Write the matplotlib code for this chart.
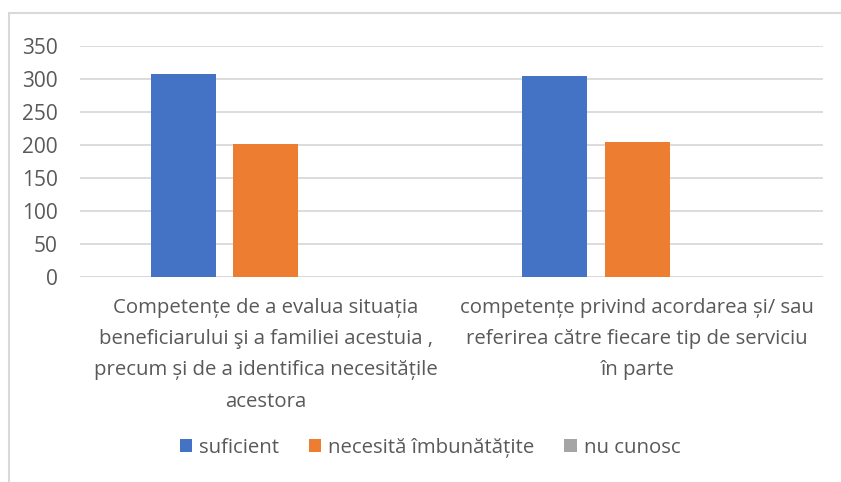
import numpy as np
import matplotlib.pyplot as plt
from matplotlib.patches import Rectangle

plt.rcParams['font.family'] = ['Open Sans', 'DejaVu Sans']

categories = [
    "Competențe de a evalua situația\nbeneficiarului şi a familiei acestuia ,\nprecum și de a identifica necesitățile\nacestora",
    "competențe privind acordarea și/ sau\nreferirea către fiecare tip de serviciu\nîn parte",
]
series = ["suficient", "necesită îmbunătățite", "nu cunosc"]
suficient = [307, 305]
necesita = [202, 204]
nu_cunosc = [0, 0]
colors = ["#4472C4", "#ED7D31", "#A5A5A5"]
yticks = [0, 50, 100, 150, 200, 250, 300, 350]
TXT = "#595959"

fig = plt.figure(figsize=(8.41, 4.82), dpi=100)
W, H = 841, 482
ax = fig.add_axes([80 / W, 1 - 277 / H, (823 - 80) / W, (277 - 46) / H])

x = np.arange(len(categories))
bw = 0.175
step = 0.222
for i, (name, vals) in enumerate(zip(series, [suficient, necesita, nu_cunosc])):
    ax.bar(x + (i - 1) * step, vals, bw, color=colors[i], label=name, zorder=3)

ax.set_xlim(-0.5, 1.5)
ax.set_ylim(0, 350)
ax.set_yticks(yticks)
ax.set_yticklabels([str(v) for v in yticks], fontsize=15, color=TXT)
ax.yaxis.grid(True, color="#D9D9D9", linewidth=1.3, zorder=0)
ax.tick_params(axis="y", length=0, pad=16)
ax.set_xticks([])
for s in ax.spines.values():
    s.set_visible(False)
ax.axhline(0, color="#D9D9D9", linewidth=1.3, zorder=2)

for xi, lab in zip(x, categories):
    ax.text(xi, -0.09, lab, transform=ax.get_xaxis_transform(), ha="center", va="top",
            fontsize=14.7, color=TXT, linespacing=1.75)

leg = fig.legend(loc="center", bbox_to_anchor=(430 / W, 1 - 448 / H), ncol=3, frameon=False,
                 fontsize=14.7, handlelength=0.6, handleheight=0.6, columnspacing=1.47,
                 handletextpad=0.34, borderpad=0, borderaxespad=0)
for t in leg.get_texts():
    t.set_color(TXT)

fig.patches.append(Rectangle((9 / W, -0.1), 1.2, 1 - 13 / H + 0.1, transform=fig.transFigure,
                             fill=False, edgecolor="#D9D9D9", linewidth=1.5))

fig.savefig("out.png", dpi=100)
